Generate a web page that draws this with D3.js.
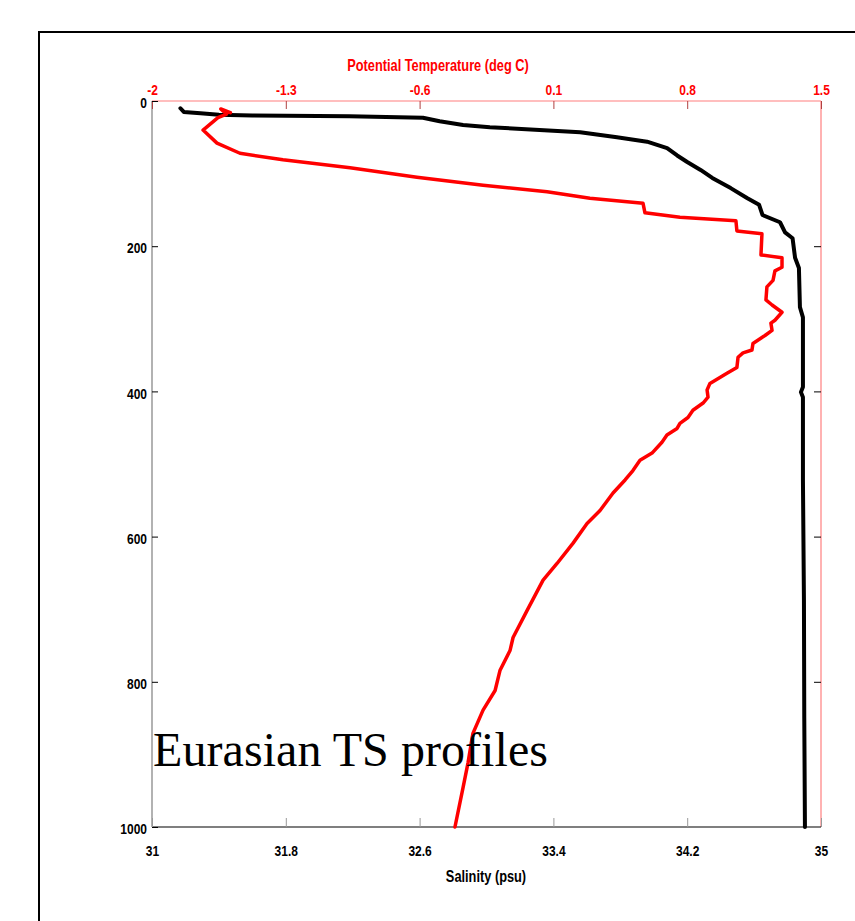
<!DOCTYPE html>
<html><head><meta charset="utf-8">
<script src="https://cdn.jsdelivr.net/npm/d3@7/dist/d3.min.js"></script>
<style>
html,body{margin:0;padding:0;background:#fff;}
svg{display:block;}
.tk text{font-family:"Liberation Sans Narrow","Liberation Sans",Arial,sans-serif;font-size:15px;font-weight:bold;}
.ttl{font-family:"Liberation Sans Narrow","Liberation Sans",Arial,sans-serif;font-size:16px;font-weight:bold;}
</style></head>
<body>
<svg id="chart" width="855" height="921"></svg>
<script>
// Depth ticks (m)
const depthTicks = [0, 200, 400, 600, 800, 1000];
const salinityTicks = [31, 31.8, 32.6, 33.4, 34.2, 35];
const tempTicks = [-2, -1.3, -0.6, 0.1, 0.8, 1.5];

// Salinity profile (black): depth (m), salinity (psu)
const salDepth = [10, 15, 17, 19, 20, 21, 22, 23, 28, 33, 36, 43, 50, 56, 65, 75, 84, 95, 106, 120, 134, 143, 150, 157, 167, 181, 189, 216, 230, 284, 298, 394, 401, 408, 522, 688, 850, 1000];
const salValue = [31.17, 31.19, 31.29, 31.40, 31.60, 32.18, 32.40, 32.62, 32.72, 32.86, 33.02, 33.56, 33.78, 33.96, 34.08, 34.14, 34.20, 34.28, 34.35, 34.46, 34.56, 34.63, 34.64, 34.65, 34.755, 34.785, 34.83, 34.845, 34.868, 34.874, 34.892, 34.892, 34.88, 34.892, 34.892, 34.898, 34.900, 34.904];

// Potential temperature profile (red): depth (m), temperature (deg C)
const tempDepth = [16, 11, 18, 23, 40, 58, 72, 81, 92, 105, 116, 125, 134, 141, 154, 160, 165, 179, 183, 212, 216, 229, 234, 247, 256, 274, 281, 291, 302, 306, 316, 323, 334, 343, 347, 353, 367, 375, 389, 398, 408, 416, 426, 436, 444, 451, 460, 470, 485, 495, 509, 522, 540, 564, 582, 609, 637, 660, 702, 739, 757, 784, 812, 839, 871, 912, 946, 1000];
const tempValue = [-1.59, -1.64, -1.61, -1.655, -1.733, -1.66, -1.54, -1.315, -0.964, -0.614, -0.268, 0.067, 0.291, 0.569, 0.579, 0.762, 1.055, 1.06, 1.191, 1.186, 1.296, 1.296, 1.259, 1.249, 1.217, 1.212, 1.244, 1.296, 1.259, 1.238, 1.244, 1.207, 1.144, 1.139, 1.092, 1.066, 1.06, 1.008, 0.919, 0.904, 0.909, 0.883, 0.83, 0.804, 0.762, 0.747, 0.694, 0.668, 0.616, 0.553, 0.516, 0.475, 0.412, 0.344, 0.276, 0.203, 0.119, 0.046, -0.038, -0.111, -0.127, -0.179, -0.205, -0.268, -0.321, -0.347, -0.373, -0.415];

const svg = d3.select("#chart");
const L = 152, R = 821, T = 101, B = 827;
const SX = 0.8; // horizontal condensation of label font

const y = d3.scaleLinear().domain([0, 1000]).range([T, B]);
const xS = d3.scaleLinear().domain([31, 35]).range([L, R]);
const xT = d3.scaleLinear().domain([-2, 1.5]).range([L, R]);

// outer frame
svg.append("rect").attr("x", 39).attr("y", 32).attr("width", 900).attr("height", 950)
  .attr("fill", "none").attr("stroke", "#000").attr("stroke-width", 2);

// axis frame lines
svg.append("line").attr("x1", L).attr("x2", R).attr("y1", T).attr("y2", T).attr("stroke", "#ff7f7f").attr("stroke-width", 1.2);
svg.append("line").attr("x1", R).attr("x2", R).attr("y1", T).attr("y2", B).attr("stroke", "#ff7f7f").attr("stroke-width", 1.2);
svg.append("line").attr("x1", L).attr("x2", L).attr("y1", T).attr("y2", B).attr("stroke", "#999").attr("stroke-width", 1.5);
svg.append("line").attr("x1", L).attr("x2", R).attr("y1", B).attr("y2", B).attr("stroke", "#000").attr("stroke-width", 1.2);

// top temperature axis
const gTop = svg.append("g").attr("class", "tk").attr("transform", `translate(0,${T})`)
  .call(d3.axisTop(xT).tickValues(tempTicks).tickFormat(d => String(d)).tickSize(-8).tickPadding(6));
gTop.select(".domain").remove();
gTop.selectAll("line").attr("stroke", "#b04040");
gTop.selectAll("text").attr("fill", "#ff0000").attr("transform", `scale(${SX},1)`);

// bottom salinity axis
const gBot = svg.append("g").attr("class", "tk").attr("transform", `translate(0,${B})`)
  .call(d3.axisBottom(xS).tickValues(salinityTicks).tickFormat(d => String(d)).tickSize(-9).tickPadding(29));
gBot.select(".domain").remove();
gBot.selectAll("line").attr("stroke", "#999");
gBot.selectAll("text").attr("fill", "#000").attr("dy", "0em").attr("transform", `scale(${SX},1)`);

// left depth axis
const gLeft = svg.append("g").attr("class", "tk").attr("transform", `translate(${L},0)`)
  .call(d3.axisLeft(y).tickValues(depthTicks).tickFormat(d => String(d)).tickSize(-6).tickPadding(5));
gLeft.select(".domain").remove();
gLeft.selectAll("line").attr("stroke", "#000");
gLeft.selectAll("text").attr("fill", "#000").attr("x", -5 / SX).attr("dy", "0.45em")
  .attr("transform", `scale(${SX},1)`);

// right ticks
const gRight = svg.append("g").attr("class", "tk").attr("transform", `translate(${R},0)`)
  .call(d3.axisRight(y).tickValues(depthTicks.slice(1, -1)).tickSize(-7).tickFormat(""));
gRight.select(".domain").remove();
gRight.selectAll("line").attr("stroke", "#000");

// axis titles
svg.append("text").attr("class", "ttl").attr("text-anchor", "middle")
  .attr("transform", `translate(438,71) scale(${SX},1)`)
  .attr("fill", "#ff0000").text("Potential Temperature (deg C)");
svg.append("text").attr("class", "ttl").attr("text-anchor", "middle")
  .attr("transform", `translate(486,882) scale(${SX},1)`)
  .attr("fill", "#000").text("Salinity (psu)");

// profiles
const salLine = d3.line().x((d, i) => xS(salValue[i])).y((d, i) => y(salDepth[i]));
svg.append("path").attr("d", salLine(salDepth)).attr("fill", "none").attr("stroke", "#000")
  .attr("stroke-width", 4).attr("stroke-linejoin", "round").attr("stroke-linecap", "round");

const tempLine = d3.line().x((d, i) => xT(tempValue[i])).y((d, i) => y(tempDepth[i]));
svg.append("path").attr("d", tempLine(tempDepth)).attr("fill", "none").attr("stroke", "#ff0000")
  .attr("stroke-width", 3.5).attr("stroke-linejoin", "round").attr("stroke-linecap", "round");

// annotation
svg.append("text").attr("x", 153).attr("y", 766)
  .attr("font-family", '"Liberation Serif","Times New Roman",serif').attr("font-size", 48)
  .attr("textLength", 395).attr("fill", "#000").text("Eurasian TS profiles");
</script>
</body></html>
